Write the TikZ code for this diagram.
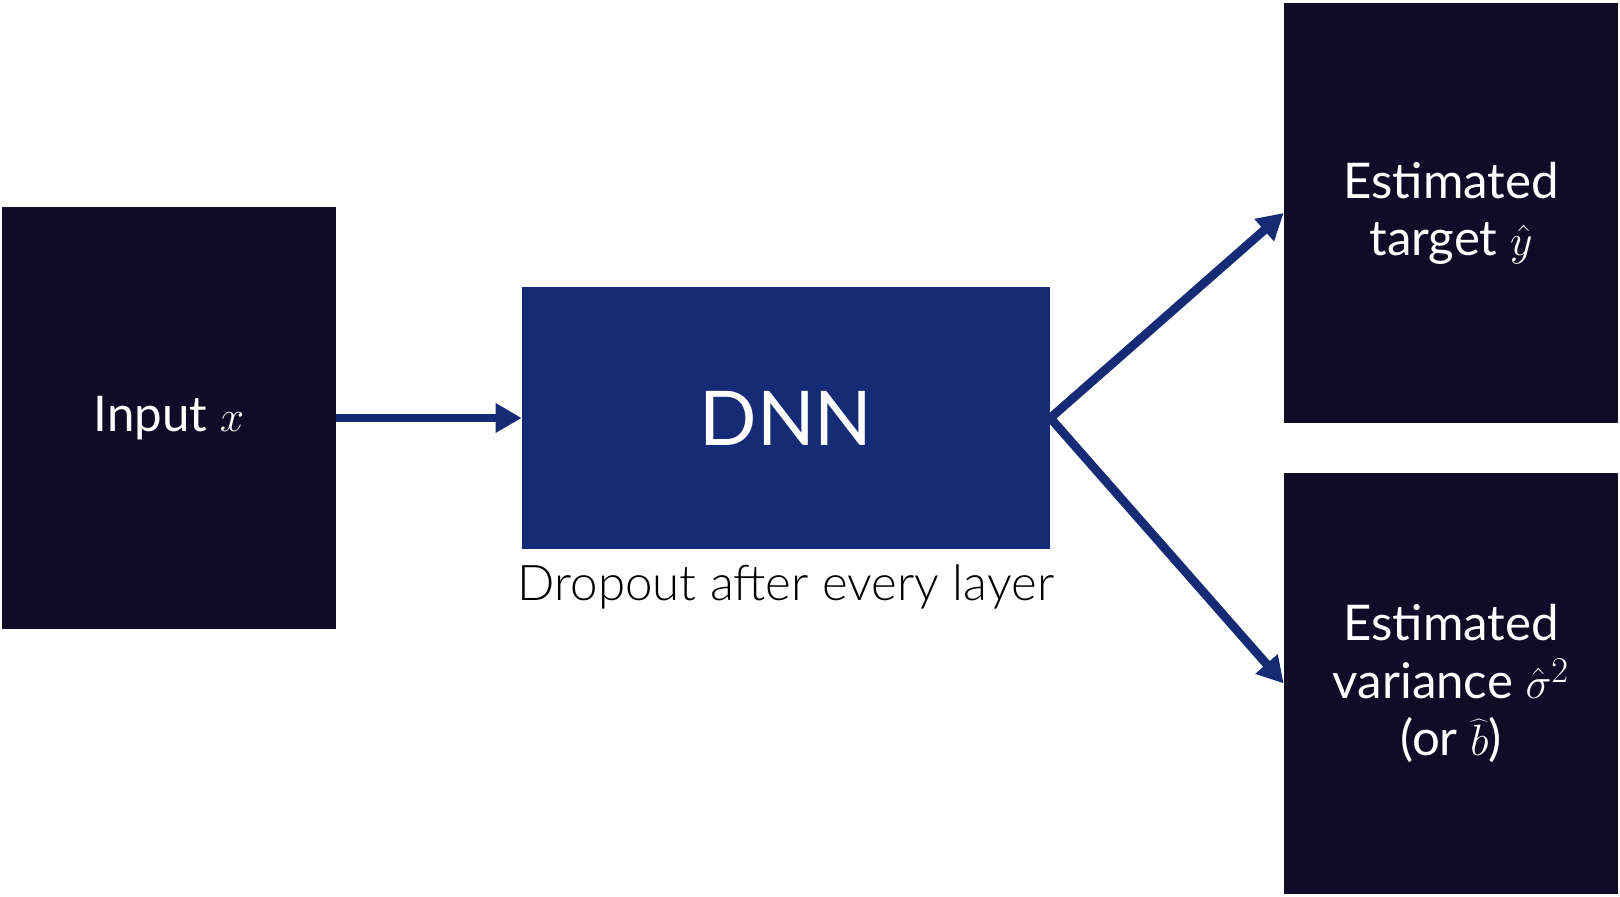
\documentclass[tikz,border=0pt]{standalone}
\usepackage{fontspec}
\setmainfont{Lato}
\newfontfamily\lightfont{Lato Light}
\usetikzlibrary{arrows.meta,positioning}
\definecolor{boxdark}{RGB}{16,11,38}
\definecolor{dnnblue}{RGB}{22,43,117}

\begin{document}
\begin{tikzpicture}[every node/.style={inner sep=0pt, align=center},
    block/.style={fill=boxdark, text=white, minimum width=6.68cm, minimum height=8.42cm,
      font=\fontsize{28}{32.5}\selectfont},
    net/.style={fill=dnnblue, text=white, minimum width=10.56cm, minimum height=5.22cm,
      font=\fontsize{43}{50}\selectfont},
    link/.style={draw=dnnblue, line width=5pt, -{Triangle[length=0.52cm, width=0.56cm]}}]
  \useasboundingbox (0,0) rectangle (32.4,17.92);
  \node[block] (input) at (3.38,9.56) {Input $x$};
  \node[net] (dnn) at (15.72,9.56) {DNN};
  \node[below=0.3cm of dnn, font=\lightfont\fontsize{28}{34}\selectfont] (drop) {Dropout after every layer};
  \node[block, minimum height=8.4cm] (target) at (29.02,13.66) {Estimated\\target $\hat{y}$};
  \node[block] (var) at (29.02,4.25) {Estimated\\variance $\hat{\sigma}^2$\\(or $\widehat{b}$)};
  \draw[link] (input) -- (dnn);
  \draw[link] (dnn.east) -- (target.west);
  \draw[link] (dnn.east) -- (var.west);
\end{tikzpicture}
\end{document}
